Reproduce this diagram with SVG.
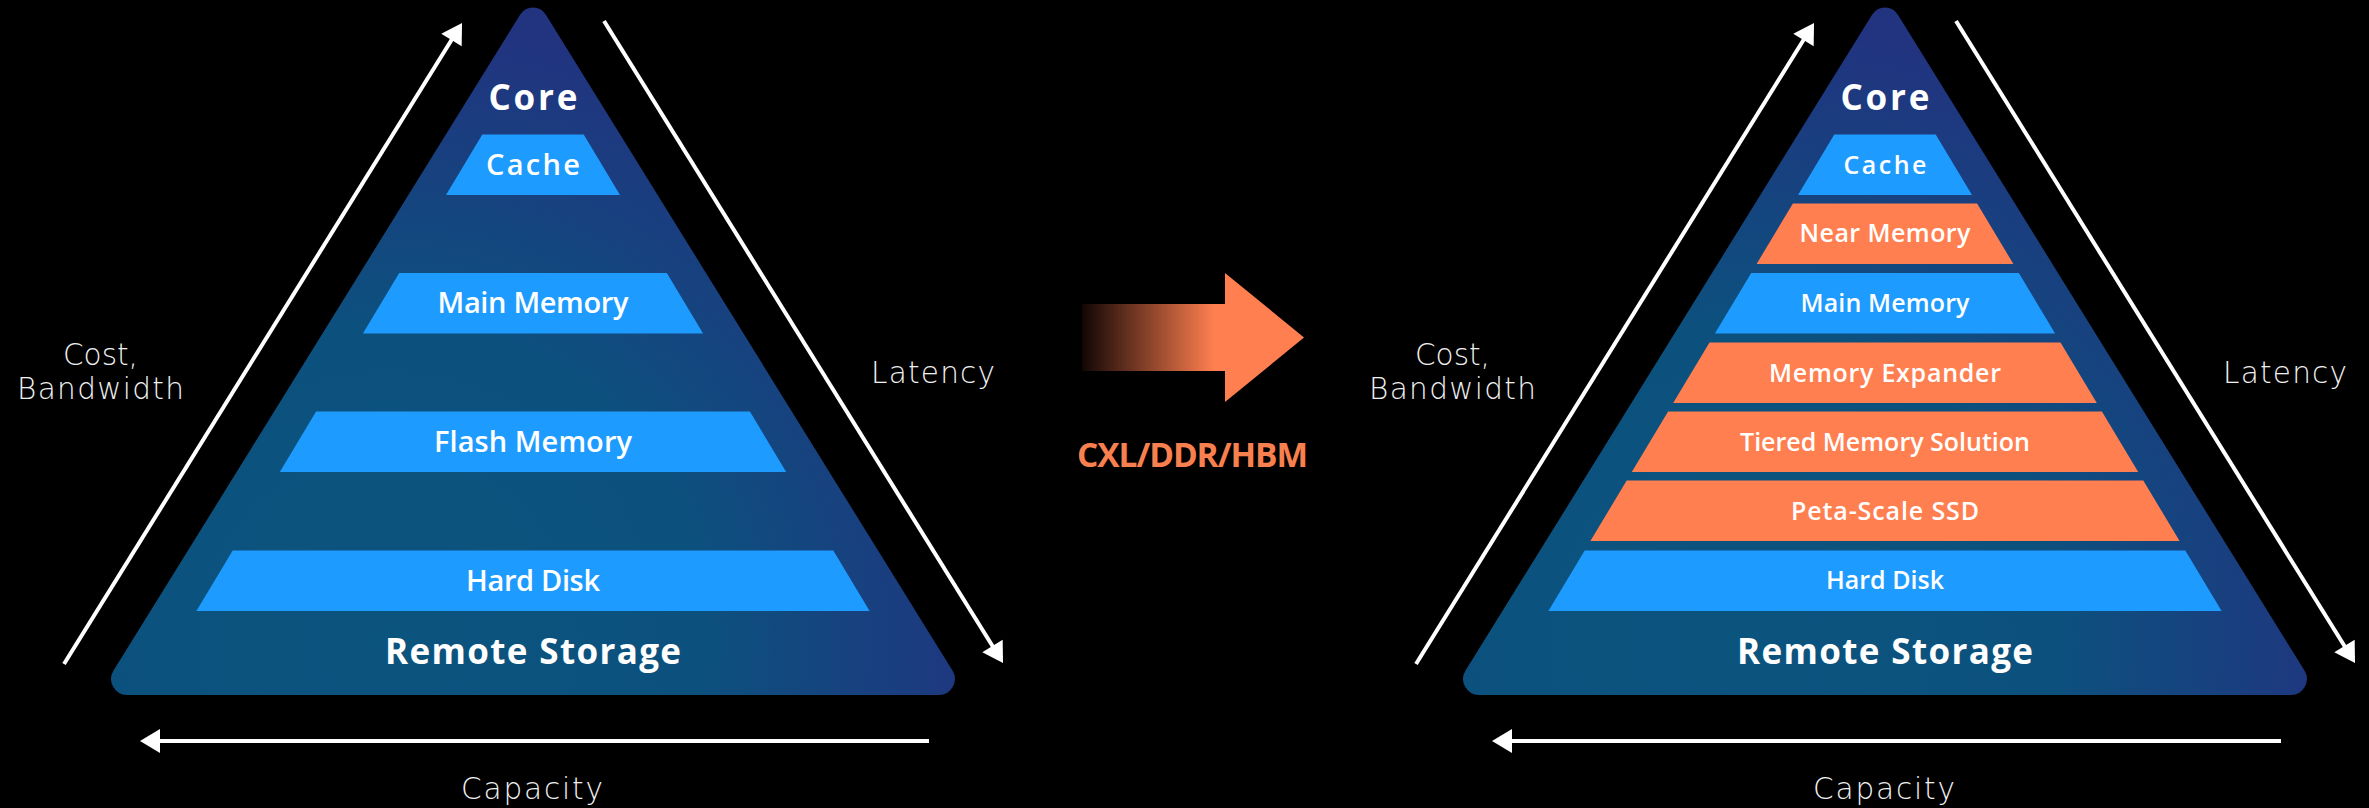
<svg xmlns="http://www.w3.org/2000/svg" width="2369" height="808" viewBox="0 0 2369 808">
  <defs>
    <!-- pyramid body: teal core fading to navy towards the apex and lower right -->
    <radialGradient id="pyrFill" gradientUnits="userSpaceOnUse" cx="390" cy="640" r="620">
      <stop offset="0" stop-color="#0B547E"/>
      <stop offset="0.5" stop-color="#0C517E"/>
      <stop offset="0.78" stop-color="#18407F"/>
      <stop offset="1" stop-color="#223380"/>
    </radialGradient>
    <linearGradient id="shiftFill" gradientUnits="userSpaceOnUse" x1="1082" y1="0" x2="1214" y2="0">
      <stop offset="0" stop-color="#120605"/>
      <stop offset="1" stop-color="#FF7F50"/>
    </linearGradient>
    <marker id="head" markerUnits="userSpaceOnUse" markerWidth="20" markerHeight="24" refX="8" refY="12" orient="auto" overflow="visible">
      <path d="M0,0 L20,12 L0,24 Z" fill="#FFFFFF"/>
    </marker>
    <path id="pyramidShape" d="M520.25 14.57 A15 15 0 0 1 545.75 14.57 L952.45 670.57 A16 16 0 0 1 938.85 695 L127.15 695 A16 16 0 0 1 113.55 670.57 Z"/>
    <style>
      .pyr { fill: url(#pyrFill); }
      .blue { fill: #1E9BFF; }
      .orange { fill: #FF7F50; }
      .axis { stroke: #FFFFFF; stroke-width: 4; fill: none; marker-end: url(#head); }
      text { font-family: "Open Sans", "Noto Sans", "DejaVu Sans", sans-serif; text-anchor: middle; }
      .title { fill: #FFFFFF; font-size: 35px; font-weight: 700; }
      .bandL { fill: #FFFFFF; font-size: 29px; font-weight: 600; }
      .bandR { fill: #FFFFFF; font-size: 25px; font-weight: 600; }
      .axisLabel { fill: #F0F0F0; font-family: "DejaVu Sans", "Open Sans", sans-serif; font-size: 29.5px; font-weight: 300; }
      .tech { fill: #F8804F; font-size: 33.5px; font-weight: 700; }
    </style>
  </defs>

  <rect x="0" y="0" width="2369" height="808" fill="#000000"/>

  <!-- ===== current hierarchy ===== -->
  <g id="hierarchy-before">
    <use id="pyramid-before" href="#pyramidShape" class="pyr"/>
    <text id="core-before" class="title" x="533" y="110" textLength="89">Core</text>
    <g id="cache-before">
      <polygon class="blue" points="482.3,134.5 583.7,134.5 620,195 446,195"/>
      <text class="bandL" x="533" y="175" textLength="94">Cache</text>
    </g>
    <g id="main-memory-before">
      <polygon class="blue" points="399.2,273 666.8,273 703.1,333.5 362.9,333.5"/>
      <text class="bandL" x="533" y="313" textLength="191">Main Memory</text>
    </g>
    <g id="flash-memory-before">
      <polygon class="blue" points="316.1,411.5 749.9,411.5 786.2,472 279.8,472"/>
      <text class="bandL" x="533" y="452" textLength="198">Flash Memory</text>
    </g>
    <g id="hard-disk-before">
      <polygon class="blue" points="232.7,550.5 833.3,550.5 869.6,611 196.4,611"/>
      <text class="bandL" x="533" y="590.5" textLength="134">Hard Disk</text>
    </g>
    <text id="remote-storage-before" class="title" x="533" y="664" textLength="296">Remote Storage</text>

    <text id="cost-bandwidth-before" class="axisLabel"><tspan x="100.5" y="364.5" textLength="75">Cost,</tspan><tspan x="100.5" y="398.5" textLength="167">Bandwidth</tspan></text>
    <text id="latency-label-before" class="axisLabel" x="933" y="383" textLength="124">Latency</text>
    <text id="capacity-label-before" class="axisLabel" x="532" y="799" textLength="142">Capacity</text>
  </g>

  <!-- ===== transition arrow ===== -->
  <g id="transition">
    <polygon points="1082,304 1225,304 1225,273 1304,337.5 1225,402 1225,371 1082,371" fill="url(#shiftFill)"/>
    <text id="tech-label" class="tech" x="1192.5" y="467" textLength="231">CXL/DDR/HBM</text>
  </g>

  <!-- ===== expanded hierarchy ===== -->
  <g id="hierarchy-after" transform="translate(1352,0)">
    <use id="pyramid-after" href="#pyramidShape" class="pyr"/>
    <text id="core-after" class="title" x="533" y="110" textLength="89">Core</text>
    <g id="cache-after">
      <polygon class="blue" points="482.3,134.5 583.7,134.5 620,195 446,195"/>
      <text class="bandR" x="533" y="173.5" textLength="83">Cache</text>
    </g>
    <g id="near-memory-after">
      <polygon class="orange" points="440.9,203.5 625.1,203.5 661.4,264 404.6,264"/>
      <text class="bandR" x="533" y="242" textLength="171">Near Memory</text>
    </g>
    <g id="main-memory-after">
      <polygon class="blue" points="399.2,273 666.8,273 703.1,333.5 362.9,333.5"/>
      <text class="bandR" x="533" y="312" textLength="169">Main Memory</text>
    </g>
    <g id="memory-expander-after">
      <polygon class="orange" points="357.5,342.5 708.5,342.5 744.8,403 321.2,403"/>
      <text class="bandR" x="533" y="381.5" textLength="232">Memory Expander</text>
    </g>
    <g id="tiered-memory-after">
      <polygon class="orange" points="316.1,411.5 749.9,411.5 786.2,472 279.8,472"/>
      <text class="bandR" x="533" y="450.5" textLength="290">Tiered Memory Solution</text>
    </g>
    <g id="peta-scale-ssd-after">
      <polygon class="orange" points="274.7,480.5 791.3,480.5 827.6,541 238.4,541"/>
      <text class="bandR" x="533" y="519.5" textLength="188">Peta-Scale SSD</text>
    </g>
    <g id="hard-disk-after">
      <polygon class="blue" points="232.7,550.5 833.3,550.5 869.6,611 196.4,611"/>
      <text class="bandR" x="533" y="589" textLength="118">Hard Disk</text>
    </g>
    <text id="remote-storage-after" class="title" x="533" y="664" textLength="296">Remote Storage</text>

    <text id="cost-bandwidth-after" class="axisLabel"><tspan x="100.5" y="364.5" textLength="75">Cost,</tspan><tspan x="100.5" y="398.5" textLength="167">Bandwidth</tspan></text>
    <text id="latency-label-after" class="axisLabel" x="933" y="383" textLength="124">Latency</text>
    <text id="capacity-label-after" class="axisLabel" x="532" y="799" textLength="142">Capacity</text>
  </g>

  <!-- ===== axis arrows (cost/bandwidth up, latency down, capacity left) ===== -->
  <g id="connectors">
    <line class="axis" x1="64" y1="664" x2="455.7" y2="33.2"/>
    <line class="axis" x1="604" y1="21" x2="996.7" y2="652.8"/>
    <line class="axis" x1="929" y1="741" x2="152" y2="741"/>
    <line class="axis" x1="1416" y1="664" x2="1807.7" y2="33.2"/>
    <line class="axis" x1="1956" y1="21" x2="2348.7" y2="652.8"/>
    <line class="axis" x1="2281" y1="741" x2="1504" y2="741"/>
  </g>
</svg>
